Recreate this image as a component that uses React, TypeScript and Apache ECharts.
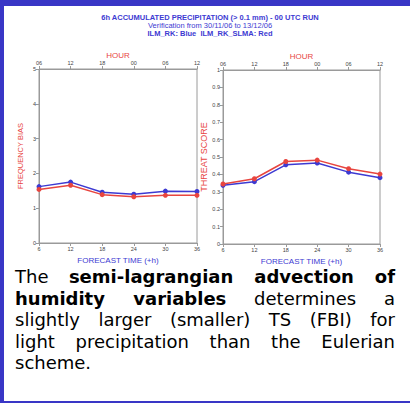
import React, { useEffect, useRef } from "react";
import * as echarts from "echarts";

const leadTimes = ["6", "12", "18", "24", "30", "36"];
const hourLabels = ["06", "12", "18", "00", "06", "12"];
const fbiBlue = [1.62, 1.75, 1.46, 1.4, 1.49, 1.48];
const fbiRed = [1.54, 1.66, 1.39, 1.33, 1.37, 1.37];
const tsBlue = [0.337, 0.358, 0.455, 0.465, 0.413, 0.381];
const tsRed = [0.345, 0.375, 0.474, 0.482, 0.433, 0.402];
const titleLines = [
  "6h ACCUMULATED PRECIPITATION (> 0.1 mm) - 00 UTC RUN",
  "Verification from 30/11/06 to 13/12/06",
  "ILM_RK: Blue  ILM_RK_SLMA: Red",
];

const RED = "#e8453f";
const BLUE = "#3d3ad2";
const FRAME = "#3936c6";
const AX = "#9a9a9a";
const LBL = "#444";
const FF = "Liberation Sans, Arial, sans-serif";

function xBottom(gridIndex: number) {
  return {
    type: "category",
    gridIndex,
    data: leadTimes,
    boundaryGap: false,
    position: "bottom",
    axisLine: { show: true, lineStyle: { color: AX, width: 1 } },
    axisTick: { show: true, length: 3, lineStyle: { color: AX } },
    axisLabel: { fontSize: 5.5, color: LBL, margin: 3, fontFamily: FF },
    splitLine: { show: false },
    name: "FORECAST TIME (+h)",
    nameLocation: "middle",
    nameGap: 13,
    nameTextStyle: { color: BLUE, fontSize: 8, fontFamily: FF },
  };
}

function xTop(gridIndex: number) {
  return {
    type: "category",
    gridIndex,
    data: hourLabels,
    boundaryGap: false,
    position: "top",
    axisLine: { show: true, lineStyle: { color: AX, width: 1 } },
    axisTick: { show: true, length: 3, lineStyle: { color: AX } },
    axisLabel: { fontSize: 5.5, color: LBL, margin: 3, fontFamily: FF },
    splitLine: { show: false },
    name: "HOUR",
    nameLocation: "middle",
    nameGap: 10,
    nameTextStyle: { color: RED, fontSize: 8, fontFamily: FF },
  };
}

function yAxis(gridIndex: number, max: number, interval: number, name: string, nameGap: number, nameSize: number) {
  return {
    type: "value",
    gridIndex,
    min: 0,
    max,
    interval,
    axisLine: { show: true, lineStyle: { color: AX, width: 1 } },
    axisTick: { show: true, length: 3, lineStyle: { color: AX } },
    axisLabel: {
      fontSize: 5.5,
      color: LBL,
      margin: 3,
      fontFamily: FF,
      formatter: (v: number) => String(+v.toFixed(1)),
    },
    splitLine: { show: false },
    name,
    nameLocation: "middle",
    nameGap,
    nameTextStyle: { color: RED, fontSize: nameSize, fontFamily: FF },
  };
}

function line(name: string, data: number[], color: string, xAxisIndex: number, yAxisIndex: number) {
  return {
    type: "line",
    name,
    data,
    xAxisIndex,
    yAxisIndex,
    symbol: "circle",
    symbolSize: 5,
    lineStyle: { color, width: 1.5 },
    itemStyle: { color },
  };
}

export default function App() {
  const ref = useRef<HTMLDivElement>(null);

  useEffect(() => {
    if (!ref.current) return;
    const chart = echarts.init(ref.current, null, { renderer: "svg" });
    chart.setOption({
      animation: false,
      backgroundColor: "#ffffff",
      title: titleLines.map((t, i) => ({
        text: t,
        left: 210,
        top: [13.5, 21.5, 29][i],
        textAlign: "center",
        padding: 0,
        textStyle: {
          fontSize: 7.5,
          fontWeight: i === 1 ? "normal" : "bold",
          color: BLUE,
          fontFamily: FF,
        },
      })),
      grid: [
        { left: 39, top: 69, width: 158, height: 174, show: true, borderColor: AX, borderWidth: 1 },
        { left: 223, top: 70, width: 157, height: 174, show: true, borderColor: AX, borderWidth: 1 },
      ],
      xAxis: [xBottom(0), xTop(0), xBottom(1), xTop(1)],
      yAxis: [
        yAxis(0, 5, 1, "FREQUENCY BIAS", 15, 7.5),
        yAxis(1, 1, 0.1, "THREAT SCORE", 9, 9),
      ],
      series: [
        line("ILM_RK", fbiBlue, BLUE, 0, 0),
        line("ILM_RK_SLMA", fbiRed, RED, 0, 0),
        line("ILM_RK", tsBlue, BLUE, 2, 1),
        line("ILM_RK_SLMA", tsRed, RED, 2, 1),
      ],
      graphic: [
        { type: "rect", shape: { x: 0, y: 0, width: 410, height: 6 }, style: { fill: FRAME } },
        { type: "rect", shape: { x: 0, y: 0, width: 4, height: 403 }, style: { fill: FRAME } },
        { type: "rect", shape: { x: 0, y: 401, width: 410, height: 2 }, style: { fill: FRAME } },
      ],
    });
    return () => chart.dispose();
  }, []);

  const lineStyle: React.CSSProperties = {
    textAlign: "justify",
    textAlignLast: "justify",
    height: 21.5,
  };

  return (
    <div style={{ position: "fixed", left: 0, top: 0, width: 410, height: 406, background: "#fff" }}>
      <div ref={ref} style={{ position: "absolute", left: 0, top: 0, width: 410, height: 406 }} />
      <div
        style={{
          position: "absolute",
          left: 15,
          top: 266,
          width: 380,
          fontFamily: "DejaVu Sans, sans-serif",
          fontSize: 18,
          lineHeight: "21.5px",
          color: "#000",
        }}
      >
        <div style={lineStyle}>
          The <b>semi-lagrangian advection of</b>
        </div>
        <div style={lineStyle}>
          <b>humidity variables</b> determines a
        </div>
        <div style={lineStyle}>slightly larger (smaller) TS (FBI) for</div>
        <div style={lineStyle}>light precipitation than the Eulerian</div>
        <div style={{ height: 21.5 }}>scheme.</div>
      </div>
    </div>
  );
}
